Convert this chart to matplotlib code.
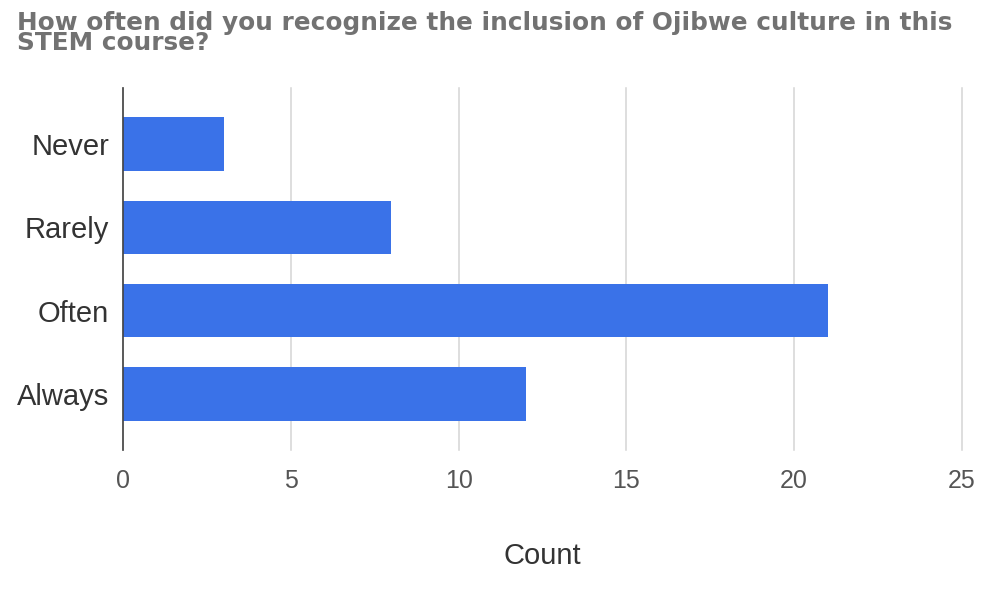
import matplotlib
matplotlib.use("Agg")
import matplotlib.pyplot as plt

# survey responses
categories = ["Never", "Rarely", "Often", "Always"]
counts = [3, 8, 21, 12]
x_ticks = [0, 5, 10, 15, 20, 25]

plt.rcParams['font.family'] = ['Liberation Sans', 'DejaVu Sans']

fig = plt.figure(figsize=(9.83, 5.99), dpi=100)
ax = fig.add_axes([0.1251, 0.2487, 0.8535, 0.6044])

ypos = list(range(len(categories)))
ax.barh(ypos, counts, height=0.64, color='#3a72e8', zorder=3)

ax.set_xlim(0, 25)
ax.set_ylim(3.67, -0.67)
ax.set_xticks(x_ticks)
ax.set_xticklabels([str(t) for t in x_ticks], fontsize=18, color='#555555')
ax.set_yticks(ypos)
ax.set_yticklabels(categories, fontsize=21, color='#333333')
ax.tick_params(axis='both', length=0)
ax.tick_params(axis='x', pad=14)
ax.tick_params(axis='y', pad=10)

ax.grid(axis='x', color='#d4d4d4', linewidth=1.1, zorder=0)
for gl in ax.get_xgridlines():
    gl.set_clip_on(False)
for s in ['top', 'right', 'bottom']:
    ax.spines[s].set_visible(False)
ax.spines['left'].set_color('#444444')
ax.spines['left'].set_linewidth(1.2)
ax.spines['left'].set_zorder(4)

ax.set_xlabel("Count", fontsize=21, color='#333333', labelpad=35)

fig.text(0.017, 0.981, "How often did you recognize the inclusion of Ojibwe culture in this\nSTEM course?",
         fontsize=17.8, fontweight='bold', color='#727272', va='top', ha='left',
         linespacing=0.78, family=['DejaVu Sans'])

fig.savefig("out.png", dpi=100, facecolor='white')
